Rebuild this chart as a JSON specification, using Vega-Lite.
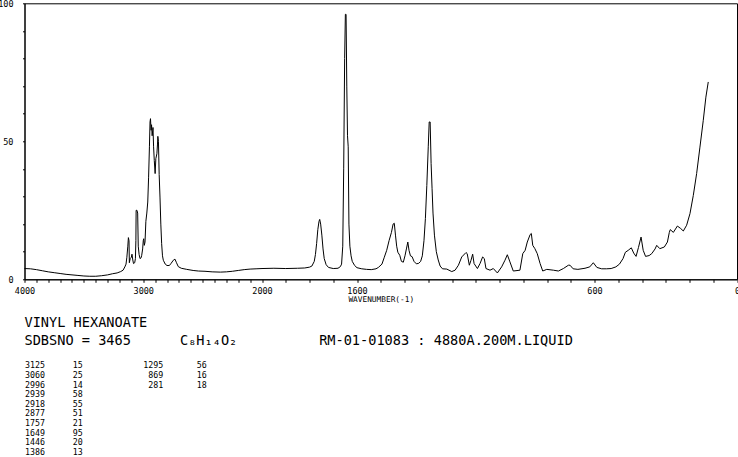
{
  "$schema": "https://vega.github.io/schema/vega-lite/v6.json",
  "width": 712.5,
  "height": 276,
  "autosize": {"type": "none"},
  "padding": {"left": 24.5, "top": 3.3, "right": 1, "bottom": 177.7},
  "background": "white",
  "title": {
    "text": ["VINYL HEXANOATE", "SDBSNO = 3465\u00a0\u00a0\u00a0\u00a0\u00a0\u00a0C\u2088H\u2081\u2084O\u2082\u00a0\u00a0\u00a0\u00a0\u00a0\u00a0\u00a0\u00a0\u00a0\u00a0RM-01-01083 : 4880A.200M.LIQUID"],
    "orient": "bottom",
    "anchor": "start",
    "frame": "group",
    "font": "DejaVu Sans Mono",
    "fontSize": 13.6,
    "fontWeight": "normal",
    "color": "black",
    "lineHeight": 17.3,
    "baseline": "alphabetic",
    "offset": -129
  },
  "datasets": {
    "spectrum": [
      {"wavenumber": 4000, "intensity": 3.9}, {"wavenumber": 3950, "intensity": 3.8}, {"wavenumber": 3900, "intensity": 3.5},
      {"wavenumber": 3850, "intensity": 3.1}, {"wavenumber": 3800, "intensity": 2.7}, {"wavenumber": 3750, "intensity": 2.4},
      {"wavenumber": 3700, "intensity": 2.1}, {"wavenumber": 3650, "intensity": 1.8}, {"wavenumber": 3600, "intensity": 1.6},
      {"wavenumber": 3550, "intensity": 1.4}, {"wavenumber": 3500, "intensity": 1.2}, {"wavenumber": 3450, "intensity": 1.1},
      {"wavenumber": 3400, "intensity": 1.1}, {"wavenumber": 3350, "intensity": 1.3}, {"wavenumber": 3300, "intensity": 1.6},
      {"wavenumber": 3260, "intensity": 2.0}, {"wavenumber": 3220, "intensity": 2.3}, {"wavenumber": 3190, "intensity": 2.8},
      {"wavenumber": 3170, "intensity": 3.3}, {"wavenumber": 3155, "intensity": 4.5}, {"wavenumber": 3145, "intensity": 5.5},
      {"wavenumber": 3138, "intensity": 8.0}, {"wavenumber": 3130, "intensity": 12}, {"wavenumber": 3125, "intensity": 15.1},
      {"wavenumber": 3120, "intensity": 14}, {"wavenumber": 3117, "intensity": 6.0}, {"wavenumber": 3110, "intensity": 7.5},
      {"wavenumber": 3100, "intensity": 8.0}, {"wavenumber": 3095, "intensity": 9.1}, {"wavenumber": 3088, "intensity": 7},
      {"wavenumber": 3082, "intensity": 5.7}, {"wavenumber": 3072, "intensity": 6.0}, {"wavenumber": 3066, "intensity": 7.5},
      {"wavenumber": 3062, "intensity": 14}, {"wavenumber": 3060, "intensity": 25}, {"wavenumber": 3053, "intensity": 25},
      {"wavenumber": 3047, "intensity": 24}, {"wavenumber": 3042, "intensity": 12}, {"wavenumber": 3035, "intensity": 9},
      {"wavenumber": 3027, "intensity": 7.5}, {"wavenumber": 3018, "intensity": 7.8}, {"wavenumber": 3013, "intensity": 8.7},
      {"wavenumber": 3005, "intensity": 11}, {"wavenumber": 3000, "intensity": 14}, {"wavenumber": 2996, "intensity": 14.7},
      {"wavenumber": 2991, "intensity": 12.3}, {"wavenumber": 2985, "intensity": 13.5}, {"wavenumber": 2978, "intensity": 21},
      {"wavenumber": 2970, "intensity": 24}, {"wavenumber": 2962, "intensity": 28}, {"wavenumber": 2955, "intensity": 37},
      {"wavenumber": 2948, "intensity": 48}, {"wavenumber": 2943, "intensity": 57}, {"wavenumber": 2939, "intensity": 58.2},
      {"wavenumber": 2934, "intensity": 54}, {"wavenumber": 2930, "intensity": 56}, {"wavenumber": 2925, "intensity": 52},
      {"wavenumber": 2920, "intensity": 54}, {"wavenumber": 2918, "intensity": 55}, {"wavenumber": 2913, "intensity": 48},
      {"wavenumber": 2907, "intensity": 43}, {"wavenumber": 2900, "intensity": 38.3}, {"wavenumber": 2894, "intensity": 43.7},
      {"wavenumber": 2885, "intensity": 45.5}, {"wavenumber": 2880, "intensity": 49}, {"wavenumber": 2877, "intensity": 51.8},
      {"wavenumber": 2872, "intensity": 50}, {"wavenumber": 2866, "intensity": 38}, {"wavenumber": 2859, "intensity": 29.8},
      {"wavenumber": 2852, "intensity": 20}, {"wavenumber": 2845, "intensity": 12.9}, {"wavenumber": 2838, "intensity": 8.5},
      {"wavenumber": 2831, "intensity": 6.9}, {"wavenumber": 2815, "intensity": 5.5}, {"wavenumber": 2800, "intensity": 5.0},
      {"wavenumber": 2780, "intensity": 5.0}, {"wavenumber": 2765, "intensity": 5.8}, {"wavenumber": 2747, "intensity": 6.9},
      {"wavenumber": 2733, "intensity": 7.3}, {"wavenumber": 2720, "intensity": 6.0}, {"wavenumber": 2705, "intensity": 4.6},
      {"wavenumber": 2680, "intensity": 4.0}, {"wavenumber": 2634, "intensity": 3.6}, {"wavenumber": 2580, "intensity": 3.2},
      {"wavenumber": 2536, "intensity": 3.0}, {"wavenumber": 2480, "intensity": 2.9}, {"wavenumber": 2420, "intensity": 2.7},
      {"wavenumber": 2350, "intensity": 2.6}, {"wavenumber": 2300, "intensity": 2.7}, {"wavenumber": 2250, "intensity": 2.9},
      {"wavenumber": 2200, "intensity": 3.2}, {"wavenumber": 2150, "intensity": 3.5}, {"wavenumber": 2100, "intensity": 3.7},
      {"wavenumber": 2050, "intensity": 3.8}, {"wavenumber": 2000, "intensity": 3.9}, {"wavenumber": 1950, "intensity": 4.0},
      {"wavenumber": 1900, "intensity": 3.9}, {"wavenumber": 1850, "intensity": 4.0}, {"wavenumber": 1820, "intensity": 4.1},
      {"wavenumber": 1800, "intensity": 4.4}, {"wavenumber": 1790, "intensity": 4.8}, {"wavenumber": 1780, "intensity": 6.5},
      {"wavenumber": 1775, "intensity": 9}, {"wavenumber": 1770, "intensity": 13}, {"wavenumber": 1765, "intensity": 18},
      {"wavenumber": 1760, "intensity": 21}, {"wavenumber": 1757, "intensity": 21.7}, {"wavenumber": 1753, "intensity": 20},
      {"wavenumber": 1748, "intensity": 16}, {"wavenumber": 1743, "intensity": 11}, {"wavenumber": 1738, "intensity": 7.5},
      {"wavenumber": 1730, "intensity": 5.3}, {"wavenumber": 1720, "intensity": 4.3}, {"wavenumber": 1700, "intensity": 3.9},
      {"wavenumber": 1680, "intensity": 4.0}, {"wavenumber": 1670, "intensity": 4.6}, {"wavenumber": 1665, "intensity": 5.5},
      {"wavenumber": 1660, "intensity": 12}, {"wavenumber": 1656, "intensity": 40}, {"wavenumber": 1652, "intensity": 80},
      {"wavenumber": 1649, "intensity": 96}, {"wavenumber": 1646, "intensity": 96}, {"wavenumber": 1643, "intensity": 70},
      {"wavenumber": 1640, "intensity": 52}, {"wavenumber": 1637, "intensity": 48}, {"wavenumber": 1634, "intensity": 20},
      {"wavenumber": 1630, "intensity": 12}, {"wavenumber": 1625, "intensity": 8.5}, {"wavenumber": 1620, "intensity": 6.5},
      {"wavenumber": 1610, "intensity": 5}, {"wavenumber": 1600, "intensity": 4.2}, {"wavenumber": 1580, "intensity": 3.8},
      {"wavenumber": 1560, "intensity": 3.6}, {"wavenumber": 1540, "intensity": 3.5}, {"wavenumber": 1520, "intensity": 3.8},
      {"wavenumber": 1510, "intensity": 4.3}, {"wavenumber": 1495, "intensity": 5.5}, {"wavenumber": 1485, "intensity": 8},
      {"wavenumber": 1475, "intensity": 10.5}, {"wavenumber": 1465, "intensity": 14}, {"wavenumber": 1455, "intensity": 17},
      {"wavenumber": 1448, "intensity": 20}, {"wavenumber": 1443, "intensity": 20.3}, {"wavenumber": 1438, "intensity": 16},
      {"wavenumber": 1433, "intensity": 12}, {"wavenumber": 1428, "intensity": 9.8}, {"wavenumber": 1420, "intensity": 8.7},
      {"wavenumber": 1413, "intensity": 6.5}, {"wavenumber": 1405, "intensity": 6.2}, {"wavenumber": 1398, "intensity": 8.5},
      {"wavenumber": 1392, "intensity": 11}, {"wavenumber": 1386, "intensity": 13.5}, {"wavenumber": 1381, "intensity": 10.5},
      {"wavenumber": 1375, "intensity": 8.5}, {"wavenumber": 1368, "intensity": 8.2}, {"wavenumber": 1360, "intensity": 6.5},
      {"wavenumber": 1350, "intensity": 5.6}, {"wavenumber": 1340, "intensity": 5.8}, {"wavenumber": 1332, "intensity": 6.5},
      {"wavenumber": 1325, "intensity": 8.5}, {"wavenumber": 1318, "intensity": 14}, {"wavenumber": 1312, "intensity": 22},
      {"wavenumber": 1306, "intensity": 34}, {"wavenumber": 1300, "intensity": 48}, {"wavenumber": 1296, "intensity": 57},
      {"wavenumber": 1292, "intensity": 57}, {"wavenumber": 1288, "intensity": 42}, {"wavenumber": 1284, "intensity": 33},
      {"wavenumber": 1280, "intensity": 24}, {"wavenumber": 1274, "intensity": 16}, {"wavenumber": 1266, "intensity": 10},
      {"wavenumber": 1258, "intensity": 7}, {"wavenumber": 1250, "intensity": 4.8}, {"wavenumber": 1240, "intensity": 3.8},
      {"wavenumber": 1222, "intensity": 3.7}, {"wavenumber": 1201, "intensity": 2.8}, {"wavenumber": 1187, "intensity": 3.3},
      {"wavenumber": 1173, "intensity": 5.1}, {"wavenumber": 1159, "intensity": 8.1}, {"wavenumber": 1141, "intensity": 9.7},
      {"wavenumber": 1136, "intensity": 9.3}, {"wavenumber": 1127, "intensity": 5.1}, {"wavenumber": 1120, "intensity": 6.9},
      {"wavenumber": 1113, "intensity": 9.1}, {"wavenumber": 1107, "intensity": 5.7}, {"wavenumber": 1093, "intensity": 3.9},
      {"wavenumber": 1082, "intensity": 5.7}, {"wavenumber": 1071, "intensity": 8.1}, {"wavenumber": 1064, "intensity": 7.5},
      {"wavenumber": 1057, "intensity": 3.9}, {"wavenumber": 1040, "intensity": 3.3}, {"wavenumber": 1026, "intensity": 3.9},
      {"wavenumber": 1009, "intensity": 2.3}, {"wavenumber": 991, "intensity": 4.5}, {"wavenumber": 977, "intensity": 6.9},
      {"wavenumber": 967, "intensity": 8.9}, {"wavenumber": 956, "intensity": 6.3}, {"wavenumber": 942, "intensity": 3.0},
      {"wavenumber": 914, "intensity": 3.3}, {"wavenumber": 902, "intensity": 9.3}, {"wavenumber": 892, "intensity": 10.5},
      {"wavenumber": 883, "intensity": 13.5}, {"wavenumber": 871, "intensity": 16.2}, {"wavenumber": 866, "intensity": 16.6},
      {"wavenumber": 860, "intensity": 12.3}, {"wavenumber": 851, "intensity": 11.1}, {"wavenumber": 841, "intensity": 9.3},
      {"wavenumber": 829, "intensity": 5.7}, {"wavenumber": 818, "intensity": 3.0}, {"wavenumber": 801, "intensity": 3.6},
      {"wavenumber": 773, "intensity": 3.3}, {"wavenumber": 752, "intensity": 3.0}, {"wavenumber": 731, "intensity": 3.9},
      {"wavenumber": 710, "intensity": 5.1}, {"wavenumber": 703, "intensity": 5.1}, {"wavenumber": 690, "intensity": 3.8},
      {"wavenumber": 670, "intensity": 3.6}, {"wavenumber": 640, "intensity": 4.0}, {"wavenumber": 620, "intensity": 4.5},
      {"wavenumber": 605, "intensity": 6.0}, {"wavenumber": 590, "intensity": 4.3}, {"wavenumber": 570, "intensity": 3.8},
      {"wavenumber": 550, "intensity": 3.8}, {"wavenumber": 530, "intensity": 3.9}, {"wavenumber": 510, "intensity": 4.5},
      {"wavenumber": 495, "intensity": 5.5}, {"wavenumber": 480, "intensity": 7.5}, {"wavenumber": 470, "intensity": 9.8},
      {"wavenumber": 458, "intensity": 10.5}, {"wavenumber": 445, "intensity": 11.4}, {"wavenumber": 435, "intensity": 9.5},
      {"wavenumber": 425, "intensity": 8.3}, {"wavenumber": 415, "intensity": 11.5}, {"wavenumber": 404, "intensity": 15.3},
      {"wavenumber": 395, "intensity": 10.5}, {"wavenumber": 385, "intensity": 8.3}, {"wavenumber": 370, "intensity": 8.6},
      {"wavenumber": 359, "intensity": 9.3}, {"wavenumber": 345, "intensity": 11}, {"wavenumber": 338, "intensity": 12.3},
      {"wavenumber": 325, "intensity": 11.1}, {"wavenumber": 306, "intensity": 11.7}, {"wavenumber": 293, "intensity": 13.5},
      {"wavenumber": 285, "intensity": 17}, {"wavenumber": 281, "intensity": 18}, {"wavenumber": 268, "intensity": 17},
      {"wavenumber": 251, "intensity": 19.3}, {"wavenumber": 237, "intensity": 18.4}, {"wavenumber": 226, "intensity": 17.5},
      {"wavenumber": 212, "intensity": 19.6}, {"wavenumber": 198, "intensity": 23.8}, {"wavenumber": 184, "intensity": 30.4},
      {"wavenumber": 170, "intensity": 38.3}, {"wavenumber": 156, "intensity": 47.9}, {"wavenumber": 142, "intensity": 57.6},
      {"wavenumber": 131, "intensity": 66}, {"wavenumber": 121, "intensity": 71.5}
    ],
    "peaks": [
      {"wavenumber": 3125, "intensity": 15}, {"wavenumber": 3060, "intensity": 25}, {"wavenumber": 2996, "intensity": 14},
      {"wavenumber": 2939, "intensity": 58}, {"wavenumber": 2918, "intensity": 55}, {"wavenumber": 2877, "intensity": 51},
      {"wavenumber": 1757, "intensity": 21}, {"wavenumber": 1649, "intensity": 95}, {"wavenumber": 1446, "intensity": 20},
      {"wavenumber": 1386, "intensity": 13}, {"wavenumber": 1295, "intensity": 56}, {"wavenumber": 869, "intensity": 16},
      {"wavenumber": 281, "intensity": 18}
    ]
  },
  "layer": [
    {
      "data": {"name": "spectrum"},
      "mark": {"type": "line", "color": "black", "strokeWidth": 1},
      "encoding": {
        "x": {
          "field": "wavenumber", "type": "quantitative",
          "scale": {"domain": [4000, 2000, 0], "range": [0, 237.5, 712.5], "nice": false, "zero": false},
          "axis": {
            "values": [4000,3900,3800,3700,3600,3500,3400,3300,3200,3100,3000,2900,2800,2700,2600,2500,2400,2300,2200,2100,2000,1900,1800,1700,1600,1500,1400,1300,1200,1100,1000,900,800,700,600,500,400,300,200,100,0],
            "format": "d",
            "labelExpr": "indexof([4000,3000,2000,1600,600,0], datum.value) >= 0 ? datum.label : ''",
            "title": "WAVENUMBER(-1)",
            "grid": false,
            "tickSize": 3,
            "labelPadding": 4,
            "labelFlush": false,
            "labelOverlap": false,
            "labelBound": false,
            "labelFont": "DejaVu Sans Mono",
            "labelFontSize": 8.5,
            "titleFont": "DejaVu Sans Mono",
            "titleFontSize": 7.8,
            "titleFontWeight": "normal",
            "titlePadding": 1
          }
        },
        "y": {
          "field": "intensity", "type": "quantitative",
          "scale": {"domain": [0, 100], "nice": false, "zero": true},
          "axis": {
            "values": [0,10,20,30,40,50,60,70,80,90,100],
            "format": "d",
            "labelExpr": "datum.value % 50 === 0 ? datum.label : ''",
            "title": null,
            "grid": false,
            "tickSize": 2,
            "labelPadding": 9.5,
            "labelFont": "DejaVu Sans Mono",
            "labelFontSize": 8.5,
            "labelBound": false,
            "labelOverlap": false
          }
        }
      }
    },
    {
      "data": {"name": "peaks"},
      "transform": [
        {"window": [{"op": "row_number", "as": "rank"}], "sort": [{"field": "wavenumber", "order": "descending"}]},
        {"filter": "datum.rank <= 10"},
        {"fold": ["wavenumber", "intensity"], "as": ["column", "value"]}
      ],
      "mark": {"type": "text", "font": "DejaVu Sans Mono", "fontSize": 8.3, "align": "right", "baseline": "alphabetic", "color": "black"},
      "encoding": {
        "x": {"field": "column", "type": "nominal", "scale": {"type": "point", "domain": ["wavenumber", "intensity"], "range": [20.5, 58.2], "padding": 0}, "axis": null},
        "y": {"field": "rank", "type": "quantitative", "scale": {"domain": [1, 10], "range": [365, 451.7], "nice": false, "zero": false}, "axis": null},
        "text": {"field": "value", "type": "nominal"}
      }
    },
    {
      "data": {"name": "peaks"},
      "transform": [
        {"window": [{"op": "row_number", "as": "rank"}], "sort": [{"field": "wavenumber", "order": "descending"}]},
        {"filter": "datum.rank > 10"},
        {"fold": ["wavenumber", "intensity"], "as": ["column", "value"]}
      ],
      "mark": {"type": "text", "font": "DejaVu Sans Mono", "fontSize": 8.3, "align": "right", "baseline": "alphabetic", "color": "black"},
      "encoding": {
        "x": {"field": "column", "type": "nominal", "scale": {"type": "point", "domain": ["wavenumber", "intensity"], "range": [138.8, 182.2], "padding": 0}, "axis": null},
        "y": {"field": "rank", "type": "quantitative", "scale": {"domain": [11, 20], "range": [365, 451.7], "nice": false, "zero": false}, "axis": null},
        "text": {"field": "value", "type": "nominal"}
      }
    }
  ],
  "resolve": {"scale": {"x": "independent", "y": "independent"}},
  "config": {
    "view": {"stroke": "black", "strokeWidth": 1},
    "axis": {"domainColor": "black", "tickColor": "black", "labelColor": "black", "titleColor": "black", "domainWidth": 1, "tickWidth": 1}
  }
}
